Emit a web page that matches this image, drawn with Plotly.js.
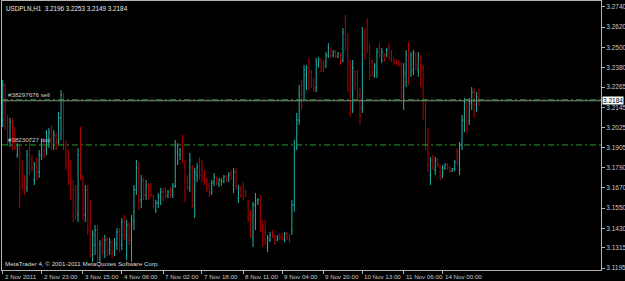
<!DOCTYPE html>
<html><head><meta charset="utf-8">
<script src="https://cdn.plot.ly/plotly-3.0.1.min.js"></script>
<style>html,body{margin:0;padding:0;background:#000;}#chart{width:625px;height:281px;}</style>
</head><body><div id="chart"></div>
<script>
const symbolTitle = 'USDPLN,H1\u00a0\u00a03.2196 3.2253 3.2149 3.2184';
const footerText = 'MetaTrader 4, \u00a9 2001-2011 MetaQuotes Software Corp.';

const openP = [
3.2070,3.2260,3.2070,3.1940,3.2059,3.1982,3.1864,3.1905,3.1775,3.1728,
3.1669,3.1893,3.1834,3.1716,3.1822,3.1763,3.1864,3.1923,3.1893,3.1964,
3.2011,3.1923,3.1976,3.1952,3.2082,3.2218,3.1923,3.1834,3.1745,3.1657,
3.1568,3.1509,3.1893,3.1728,3.1509,3.1657,3.1568,3.1273,3.1332,3.1420,
3.1255,3.1349,3.1290,3.1361,3.1302,3.1338,3.1290,3.1332,3.1409,3.1332,
3.1468,3.1391,3.1450,3.1361,3.1468,3.1657,3.1787,3.1598,3.1716,3.1627,
3.1680,3.1680,3.1621,3.1539,3.1580,3.1609,3.1645,3.1657,3.1621,3.1657,
3.1627,3.1680,3.1881,3.1864,3.1923,3.1804,3.1716,3.1669,3.1787,3.1568,
3.1745,3.1822,3.1775,3.1745,3.1716,3.1680,3.1645,3.1704,3.1728,3.1692,
3.1710,3.1704,3.1739,3.1716,3.1757,3.1686,3.1763,3.1609,3.1669,3.1680,
3.1645,3.1586,3.1509,3.1373,3.1568,3.1580,3.1598,3.1450,3.1409,3.1314,
3.1361,3.1409,3.1379,3.1361,3.1391,3.1397,3.1361,3.1397,3.1385,3.1420,
3.1568,3.1905,3.2070,3.2277,3.2189,3.2336,3.2413,3.2354,3.2307,3.2260,
3.2396,3.2425,3.2407,3.2390,3.2449,3.2484,3.2449,3.2472,3.2443,3.2455,
3.2425,3.2673,3.2543,3.2396,3.2141,3.2354,3.2336,3.2218,3.2141,3.2590,
3.2650,3.2496,3.2413,3.2336,3.2354,3.2496,3.2425,3.2455,3.2455,3.2502,
3.2472,3.2431,3.2419,3.2413,3.2401,3.2218,3.2336,3.2496,3.2354,3.2366,
3.2455,3.2366,3.2443,3.2378,3.2130,3.1923,3.1745,3.1834,3.1775,3.1834,
3.1793,3.1739,3.1787,3.1804,3.1793,3.1769,3.1781,3.1881,3.1804,3.1923,
3.2070,3.2171,3.2070,3.2171,3.2236,3.2159,3.2196];

const highP = [
3.2307,3.2289,3.2100,3.2082,3.2082,3.2029,3.1934,3.1923,3.1834,3.1745,
3.1893,3.1964,3.1864,3.1822,3.1846,3.1893,3.1952,3.1964,3.2011,3.2023,
3.2041,3.2011,3.1999,3.2118,3.2248,3.2230,3.1952,3.1893,3.1834,3.1716,
3.1686,3.1905,3.2029,3.1745,3.1686,3.1686,3.1598,3.1420,3.1450,3.1450,
3.1361,3.1373,3.1391,3.1379,3.1373,3.1361,3.1373,3.1432,3.1432,3.1491,
3.1509,3.1479,3.1468,3.1509,3.1686,3.1834,3.1822,3.1745,3.1734,3.1716,
3.1698,3.1698,3.1627,3.1598,3.1639,3.1669,3.1669,3.1674,3.1657,3.1674,
3.1698,3.1952,3.1934,3.1905,3.1982,3.1834,3.1745,3.1875,3.1804,3.1787,
3.1816,3.1852,3.1834,3.1775,3.1728,3.1698,3.1716,3.1757,3.1734,3.1728,
3.1728,3.1745,3.1745,3.1763,3.1775,3.1787,3.1787,3.1686,3.1680,3.1704,
3.1657,3.1598,3.1539,3.1586,3.1639,3.1609,3.1627,3.1479,3.1479,3.1391,
3.1409,3.1420,3.1391,3.1391,3.1403,3.1403,3.1409,3.1409,3.1397,3.1598,
3.1952,3.2112,3.2277,3.2307,3.2396,3.2396,3.2437,3.2366,3.2319,3.2437,
3.2443,3.2437,3.2425,3.2472,3.2525,3.2496,3.2484,3.2484,3.2472,3.2466,
3.2614,3.2691,3.2585,3.2425,3.2425,3.2366,3.2366,3.2265,3.2620,3.2614,
3.2673,3.2525,3.2425,3.2407,3.2496,3.2525,3.2496,3.2466,3.2496,3.2525,
3.2484,3.2437,3.2425,3.2425,3.2413,3.2407,3.2484,3.2531,3.2472,3.2484,
3.2472,3.2472,3.2455,3.2396,3.2189,3.2023,3.1852,3.1864,3.1852,3.1846,
3.1804,3.1804,3.1816,3.1816,3.1799,3.1787,3.1834,3.1905,3.1940,3.2100,
3.2200,3.2177,3.2200,3.2265,3.2260,3.2236,3.2253];

const lowP = [
3.2029,3.2011,3.1923,3.1911,3.1893,3.1893,3.1846,3.1550,3.1657,3.1627,
3.1645,3.1745,3.1763,3.1686,3.1716,3.1728,3.1834,3.1846,3.1864,3.1905,
3.1893,3.1893,3.1893,3.1923,3.1952,3.1893,3.1775,3.1686,3.1598,3.1468,
3.1479,3.1468,3.1716,3.1479,3.1468,3.1391,3.1255,3.1231,3.1273,3.1231,
3.1225,3.1273,3.1255,3.1267,3.1273,3.1255,3.1267,3.1302,3.1290,3.1302,
3.1361,3.1243,3.1332,3.1231,3.1420,3.1627,3.1539,3.1550,3.1598,3.1598,
3.1598,3.1615,3.1550,3.1521,3.1550,3.1568,3.1586,3.1609,3.1609,3.1609,
3.1609,3.1669,3.1804,3.1834,3.1816,3.1586,3.1657,3.1645,3.1550,3.1491,
3.1704,3.1716,3.1704,3.1686,3.1645,3.1615,3.1627,3.1680,3.1686,3.1674,
3.1680,3.1698,3.1704,3.1704,3.1716,3.1639,3.1657,3.1580,3.1609,3.1598,
3.1615,3.1468,3.1373,3.1320,3.1420,3.1568,3.1409,3.1320,3.1332,3.1290,
3.1349,3.1373,3.1332,3.1355,3.1361,3.1361,3.1349,3.1361,3.1344,3.1391,
3.1527,3.1893,3.2041,3.2130,3.2189,3.2248,3.2248,3.2260,3.2236,3.2236,
3.2378,3.2354,3.2354,3.2378,3.2437,3.2437,3.2443,3.2437,3.2437,3.2396,
3.2413,3.2484,3.2236,3.2088,3.2112,3.2248,3.2189,3.2041,3.2112,3.2425,
3.2466,3.2307,3.2325,3.2319,3.2319,3.2437,3.2407,3.2413,3.2443,3.2425,
3.2413,3.2396,3.2396,3.2384,3.2189,3.2130,3.2265,3.2277,3.2325,3.2336,
3.2366,3.2325,3.2265,3.2070,3.1893,3.1763,3.1686,3.1775,3.1745,3.1793,
3.1716,3.1728,3.1775,3.1775,3.1757,3.1763,3.1769,3.1804,3.1745,3.1893,
3.1999,3.1994,3.2041,3.2130,3.2082,3.2118,3.2149];

const closeP = [
3.2277,3.2041,3.1952,3.2059,3.1923,3.1911,3.1917,3.1627,3.1686,3.1657,
3.1864,3.1787,3.1787,3.1804,3.1763,3.1864,3.1923,3.1881,3.1982,3.1999,
3.1923,3.1982,3.1940,3.2082,3.2218,3.1923,3.1804,3.1716,3.1627,3.1509,
3.1527,3.1864,3.1745,3.1539,3.1657,3.1420,3.1302,3.1391,3.1420,3.1273,
3.1332,3.1302,3.1361,3.1290,3.1349,3.1290,3.1344,3.1409,3.1332,3.1468,
3.1391,3.1450,3.1361,3.1479,3.1657,3.1787,3.1598,3.1716,3.1627,3.1686,
3.1627,3.1627,3.1562,3.1580,3.1621,3.1645,3.1609,3.1621,3.1645,3.1627,
3.1680,3.1923,3.1923,3.1893,3.1834,3.1627,3.1669,3.1834,3.1598,3.1763,
3.1793,3.1745,3.1728,3.1704,3.1669,3.1639,3.1698,3.1734,3.1698,3.1716,
3.1710,3.1734,3.1716,3.1745,3.1728,3.1763,3.1680,3.1669,3.1627,3.1615,
3.1621,3.1491,3.1391,3.1568,3.1598,3.1598,3.1432,3.1361,3.1349,3.1373,
3.1391,3.1385,3.1344,3.1379,3.1373,3.1367,3.1397,3.1373,3.1361,3.1568,
3.1893,3.2070,3.2218,3.2159,3.2366,3.2378,3.2277,3.2277,3.2248,3.2413,
3.2425,3.2366,3.2378,3.2455,3.2496,3.2449,3.2472,3.2449,3.2466,3.2413,
3.2590,3.2514,3.2277,3.2118,3.2378,3.2277,3.2218,3.2100,3.2573,3.2455,
3.2484,3.2336,3.2354,3.2390,3.2472,3.2455,3.2472,3.2425,3.2484,3.2437,
3.2425,3.2407,3.2401,3.2396,3.2236,3.2354,3.2455,3.2319,3.2449,3.2461,
3.2396,3.2449,3.2378,3.2130,3.1923,3.1804,3.1834,3.1793,3.1834,3.1804,
3.1728,3.1787,3.1804,3.1787,3.1769,3.1781,3.1822,3.1822,3.1923,3.2070,
3.2171,3.2041,3.2177,3.2236,3.2159,3.2206,3.2184];

const timeLabels = ['2 Nov 2011','2 Nov 23:00','3 Nov 15:00','4 Nov 08:00','7 Nov 02:00','7 Nov 18:00',
  '8 Nov 11:00','9 Nov 04:00','9 Nov 20:00','10 Nov 13:00','11 Nov 06:00','14 Nov 00:00'];
const timeLabelBar = [0,16,33,49,66,82,99,115,132,148,165,181];

const priceTicks = [3.2740,3.2620,3.2500,3.2380,3.2265,3.2145,3.2025,3.1905,3.1790,3.1670,3.1550,3.1430,3.1315,3.1195];
const bidPrice = 3.2184;
const orderLabels = ['#38297676 sell', '#38230727 buy'];
const orderPrices = [3.2190, 3.1923];

const UP = '#20b2aa', DOWN = '#b40000', DOJI = '#00c000';
const FONT = 'Liberation Sans, Arial, sans-serif';

const allIdx = openP.map((_, i) => i);
const dojiIdx = allIdx.filter(i => openP[i] === closeP[i]);
const mainIdx = allIdx.filter(i => openP[i] !== closeP[i]);
const pick = (arr, ids) => ids.map(i => arr[i]);

const traces = [
  {type:'ohlc', x: mainIdx, open: pick(openP, mainIdx), high: pick(highP, mainIdx),
   low: pick(lowP, mainIdx), close: pick(closeP, mainIdx), tickwidth: 0.4,
   increasing:{line:{color:UP, width:1}}, decreasing:{line:{color:DOWN, width:1}}, hoverinfo:'skip'},
  {type:'ohlc', x: dojiIdx, open: pick(openP, dojiIdx), high: pick(highP, dojiIdx),
   low: pick(lowP, dojiIdx), close: pick(closeP, dojiIdx), tickwidth: 0.4,
   increasing:{line:{color:DOJI, width:1}}, decreasing:{line:{color:DOJI, width:1}}, hoverinfo:'skip'}
];

const shapes = [
  {type:'line', xref:'paper', x0:0, x1:1, yref:'y', y0:bidPrice, y1:bidPrice, line:{color:'#8a8a8a', width:1}}
].concat(orderPrices.map(p => ({type:'line', xref:'paper', x0:0, x1:1, yref:'y', y0:p, y1:p,
  line:{color:'#2f9a2f', width:1, dash:'6px,3px,2px,3px'}})));

const annotations = [
  {xref:'paper', yref:'paper', x:0, y:1, xanchor:'left', yanchor:'top', xshift:2, yshift:-2, showarrow:false,
   text: symbolTitle, font:{family:FONT, size:6.3, color:'#e8e8e8'}},
  {xref:'paper', yref:'paper', x:0, y:0, xanchor:'left', yanchor:'bottom', xshift:1, yshift:1, showarrow:false,
   text: footerText, font:{family:FONT, size:6.2, color:'#dcdcdc'}},
  {xref:'paper', yref:'y', x:1, y:bidPrice, xanchor:'left', yanchor:'middle', xshift:1, showarrow:false,
   text: bidPrice.toFixed(4), bgcolor:'#ffffff', borderpad:0, font:{family:FONT, size:6.5, color:'#000000'}}
].concat(orderLabels.map((t, k) => ({xref:'paper', yref:'y', x:0, y:orderPrices[k], xanchor:'left', yanchor:'bottom',
   xshift:4, yshift:0, showarrow:false, text:t, font:{family:FONT, size:6.2, color:'#d0d0d0'}})))
 .concat(timeLabels.map((t, k) => ({xref:'x', yref:'paper', x:timeLabelBar[k], y:0, xanchor:'left', yanchor:'top',
   yshift:-1, showarrow:false, text:t, font:{family:FONT, size:6.2, color:'#c8c8c8'}})));

const layout = {
  width:625, height:281, margin:{l:2, r:24, t:1, b:11, pad:0},
  paper_bgcolor:'#000000', plot_bgcolor:'#000000', showlegend:false,
  xaxis:{range:[-0.3, 246.2], showgrid:false, zeroline:false, showline:true, mirror:true,
    linecolor:'#b4b4b4', linewidth:1, ticks:'outside', ticklen:3, tickcolor:'#b4b4b4',
    tickvals: timeLabelBar, showticklabels:false, rangeslider:{visible:false}, fixedrange:true},
  yaxis:{range:[3.11839, 3.27737], side:'right', showgrid:false, zeroline:false, showline:true, mirror:true,
    linecolor:'#b4b4b4', linewidth:1, ticks:'outside', ticklen:3, tickcolor:'#b4b4b4',
    tickvals: priceTicks, ticktext: priceTicks.map(v => v.toFixed(4)),
    tickfont:{family:FONT, size:6.5, color:'#c8c8c8'}, fixedrange:true},
  shapes: shapes, annotations: annotations
};

Plotly.newPlot('chart', traces, layout, {staticPlot:true, displayModeBar:false});
</script></body></html>
